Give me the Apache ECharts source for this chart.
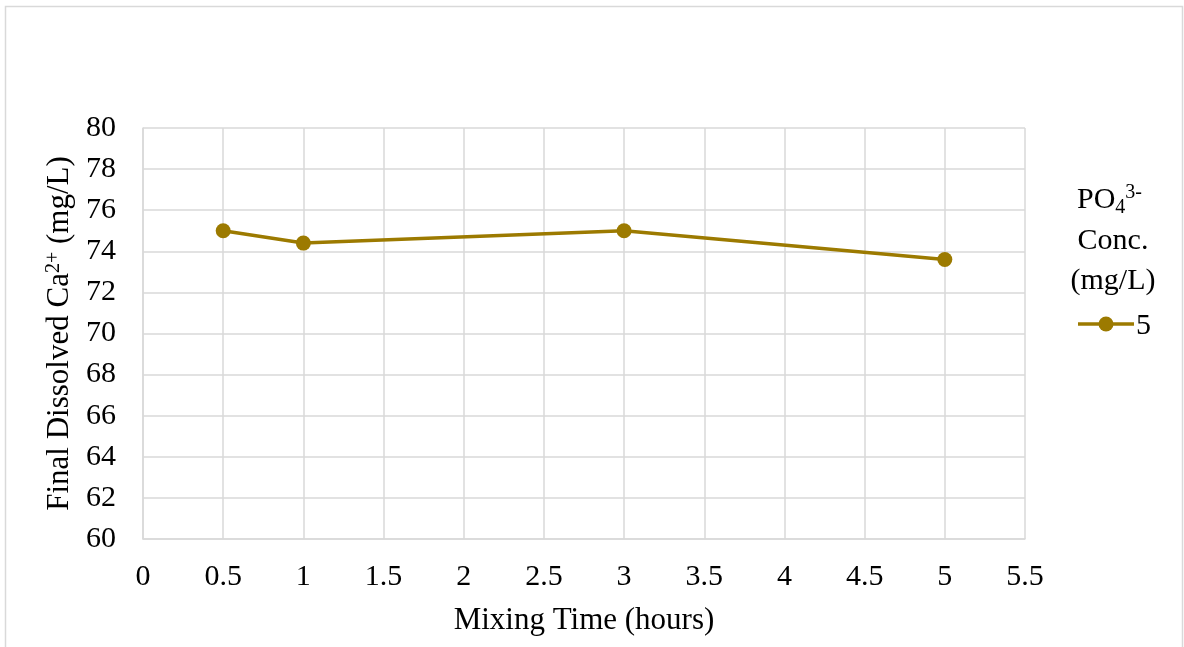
<!DOCTYPE html>
<html>
<head>
<meta charset="utf-8">
<script src="https://cdn.jsdelivr.net/npm/echarts@6/dist/echarts.min.js"></script>
<style>
  html, body { margin: 0; padding: 0; background: #ffffff; }
  #chart { width: 1184px; height: 647px; }
</style>
</head>
<body>
<div id="chart"></div>
<script>
// Mixing time (hours) and final dissolved calcium (mg/L)
const mixingHours = [0.5, 1, 3, 5];
const calciumMgL = [75.0, 74.4, 75.0, 73.6];
const seriesName = '5';

const FONT = '"Liberation Serif", "Times New Roman", serif';
const GRID_COLOR = '#d9d9d9';
const LINE_COLOR = '#9c7a00';

const chart = echarts.init(document.getElementById('chart'));

chart.setOption({
  animation: false,
  backgroundColor: '#ffffff',
  textStyle: { fontFamily: FONT },
  grid: { left: 143, right: 159, top: 128, bottom: 108, containLabel: false },
  xAxis: {
    type: 'value',
    min: 0,
    max: 5.5,
    interval: 0.5,
    name: 'Mixing Time (hours)',
    nameLocation: 'middle',
    nameGap: 66,
    nameTextStyle: { fontFamily: FONT, fontSize: 31, color: '#000' },
    axisLine: { show: true, lineStyle: { color: GRID_COLOR, width: 1.5 } },
    axisTick: { show: false },
    axisLabel: { fontFamily: FONT, fontSize: 30, color: '#000', margin: 23 },
    splitLine: { show: true, lineStyle: { color: GRID_COLOR, width: 1.5 } }
  },
  yAxis: {
    type: 'value',
    min: 60,
    max: 80,
    interval: 2,
    name: '{t|Final Dissolved Ca}{sup|2+}{t| (mg/L)}',
    nameLocation: 'middle',
    nameGap: 66,
    nameTextStyle: {
      fontFamily: FONT, fontSize: 31, color: '#000',
      rich: {
        t: { fontFamily: FONT, fontSize: 31, color: '#000' },
        sup: { fontFamily: FONT, fontSize: 20, color: '#000', verticalAlign: 'top', padding: [0, 0, 12, 0] }
      }
    },
    axisLine: { show: true, lineStyle: { color: GRID_COLOR, width: 1.5 } },
    axisTick: { show: false },
    axisLabel: { fontFamily: FONT, fontSize: 30, color: '#000', margin: 27 },
    splitLine: { show: true, lineStyle: { color: GRID_COLOR, width: 1.5 } }
  },
  legend: { show: false },
  graphic: [
    {
      type: 'rect',
      silent: true,
      shape: { x: 5.5, y: 6.5, width: 1177, height: 660 },
      style: { fill: 'none', stroke: '#d9d9d9', lineWidth: 1.5 }
    },
    {
      type: 'text',
      left: 1077,
      top: 183,
      style: {
        text: '{t|PO}{sub|4}{sup|3-}',
        rich: {
          t: { fontFamily: FONT, fontSize: 30, fill: '#000' },
          sub: { fontFamily: FONT, fontSize: 20, fill: '#000', padding: [16, 0, 0, 0] },
          sup: { fontFamily: FONT, fontSize: 20, fill: '#000', padding: [0, 0, 14, 0] }
        }
      }
    },
    {
      type: 'text',
      style: {
        x: 1113,
        y: 221,
        text: 'Conc.\n(mg/L)',
        align: 'center',
        verticalAlign: 'top',
        lineHeight: 40,
        fontFamily: FONT,
        fontSize: 30,
        fill: '#000'
      }
    },
    // legend entry: line with marker, then series name
    {
      type: 'line',
      silent: true,
      shape: { x1: 1078, y1: 324, x2: 1134, y2: 324 },
      style: { stroke: LINE_COLOR, lineWidth: 3.5 }
    },
    {
      type: 'circle',
      silent: true,
      shape: { cx: 1106, cy: 324, r: 7.5 },
      style: { fill: LINE_COLOR }
    },
    {
      type: 'text',
      style: {
        x: 1136,
        y: 326,
        text: seriesName,
        verticalAlign: 'middle',
        fontFamily: FONT,
        fontSize: 30,
        fill: '#000'
      }
    }
  ],
  series: [
    {
      name: seriesName,
      type: 'line',
      data: mixingHours.map((h, i) => [h, calciumMgL[i]]),
      symbol: 'circle',
      symbolSize: 15,
      lineStyle: { color: LINE_COLOR, width: 3.5 },
      itemStyle: { color: LINE_COLOR },
      emphasis: { disabled: true }
    }
  ]
});
</script>
</body>
</html>
